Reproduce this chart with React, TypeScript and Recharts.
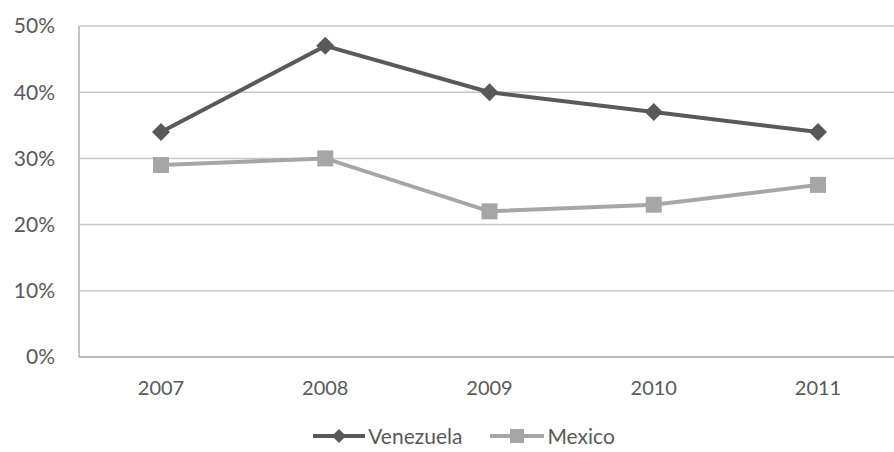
import { LineChart, Line, XAxis, YAxis, CartesianGrid, Legend } from "recharts";

const years = ["2007", "2008", "2009", "2010", "2011"];
const venezuela = [34, 47, 40, 37, 34];
const mexico = [29, 30, 22, 23, 26];
const yTicks = [0, 10, 20, 30, 40, 50];

const data = years.map((year, i) => ({
	year,
	venezuela: venezuela[i],
	mexico: mexico[i],
}));

const DARK = "#595959";
const LIGHT = "#a6a6a6";
const FONT = "Lato, 'Open Sans', sans-serif";

function Diamond({ cx, cy, r = 9, fill = DARK }: any) {
	if (cx == null || cy == null) return null;
	return (
		<polygon
			points={`${cx},${cy - r} ${cx + r},${cy} ${cx},${cy + r} ${cx - r},${cy}`}
			fill={fill}
		/>
	);
}

function Square({ cx, cy, s = 8, fill = LIGHT }: any) {
	if (cx == null || cy == null) return null;
	return <rect x={cx - s} y={cy - s} width={s * 2} height={s * 2} fill={fill} />;
}

function LegendBox() {
	return (
		<div
			style={{
				display: "flex",
				justifyContent: "center",
				alignItems: "center",
				height: 37,
				paddingTop: 20,
				paddingLeft: 28,
				boxSizing: "border-box",
				fontFamily: FONT,
				fontSize: 21,
				color: DARK,
			}}
		>
			<svg width={52} height={20} style={{ marginRight: 3 }}>
				<line x1={0} y1={10} x2={52} y2={10} stroke={DARK} strokeWidth={4} />
				<Diamond cx={26} cy={10} r={7} />
			</svg>
			<span style={{ marginRight: 28 }}>Venezuela</span>
			<svg width={54} height={20} style={{ marginRight: 3 }}>
				<line x1={0} y1={10} x2={54} y2={10} stroke={LIGHT} strokeWidth={4} />
				<Square cx={27} cy={10} s={7} />
			</svg>
			<span>Mexico</span>
		</div>
	);
}

export default function App() {
	return (
		<div
			style={{
				position: "absolute",
				top: 0,
				left: 0,
				width: 894,
				height: 452,
				overflow: "hidden",
				background: "#fff",
			}}
		>
			<LineChart
				width={900}
				height={452}
				data={data}
				margin={{ top: 26, right: 0, bottom: 8, left: 0 }}
			>
				<CartesianGrid vertical={false} stroke="#c6c6c6" strokeWidth={1.5} />
				<XAxis
					dataKey="year"
					padding={{ left: 82, right: 82 }}
					height={50}
					tickSize={0}
					tickMargin={24}
					axisLine={{ stroke: "#b0b0b0", strokeWidth: 1.5 }}
					tick={{ fontSize: 20, fill: DARK, fontFamily: FONT }}
				/>
				<YAxis
					domain={[0, 50]}
					ticks={yTicks}
					width={79}
					tickSize={0}
					tickMargin={24}
					axisLine={{ stroke: "#b0b0b0", strokeWidth: 1.5 }}
					tickFormatter={(v) => `${v}%`}
					tick={{ fontSize: 21, fill: DARK, fontFamily: FONT }}
				/>
				<Legend verticalAlign="bottom" content={() => <LegendBox />} />
				<Line
					dataKey="venezuela"
					name="Venezuela"
					stroke={DARK}
					strokeWidth={4}
					dot={(p: any) => <Diamond key={`v-${p.index}`} cx={p.cx} cy={p.cy} />}
					isAnimationActive={false}
				/>
				<Line
					dataKey="mexico"
					name="Mexico"
					stroke={LIGHT}
					strokeWidth={4}
					dot={(p: any) => <Square key={`m-${p.index}`} cx={p.cx} cy={p.cy} />}
					isAnimationActive={false}
				/>
			</LineChart>
		</div>
	);
}
